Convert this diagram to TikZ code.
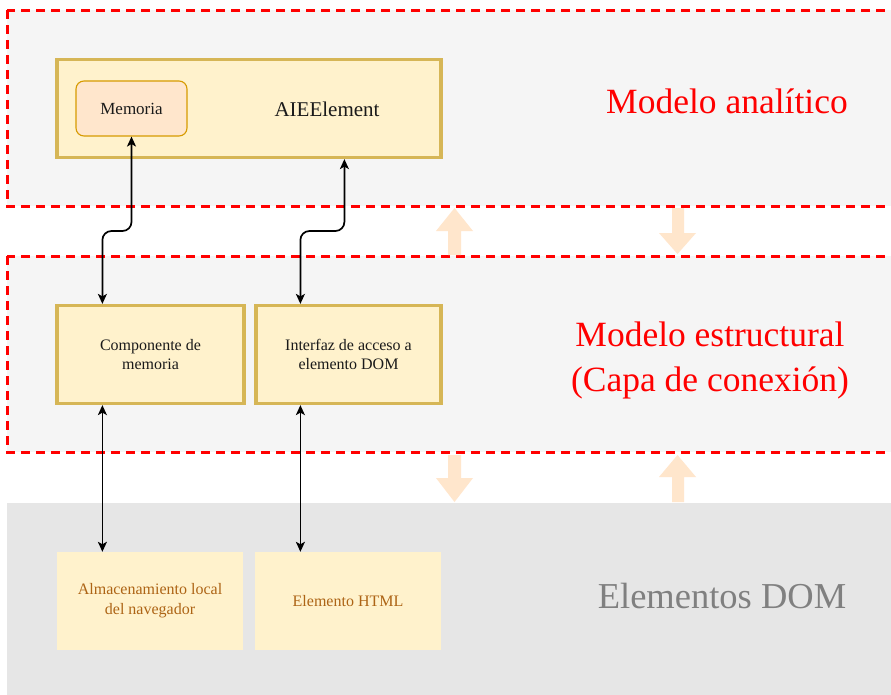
\documentclass[tikz,border=0pt]{standalone}
\usepackage{fontspec}
\setmainfont{Liberation Serif}
\usetikzlibrary{arrows.meta,calc}
\definecolor{panel}{HTML}{F5F5F5}
\definecolor{domgray}{HTML}{E6E6E6}
\definecolor{boxfill}{HTML}{FFF2CC}
\definecolor{boxline}{HTML}{D6B656}
\definecolor{memfill}{HTML}{FFE6CC}
\definecolor{memline}{HTML}{D79B00}
\definecolor{domtext}{HTML}{AD6415}
\definecolor{flow}{HTML}{FFE6CC}
\definecolor{ink}{HTML}{1A1A1A}
\begin{document}
\begin{tikzpicture}[x=1pt,y=-1pt,
  layer/.style={draw=red, line width=3pt, dash pattern=on 9pt off 6pt, fill=panel},
  compbox/.style={draw=boxline, line width=3.2pt, fill=boxfill, inner sep=0pt,
    text=ink, align=center, font=\fontsize{16}{19}\selectfont},
  dombox/.style={fill=boxfill, inner sep=0pt, text=domtext, align=center,
    font=\fontsize{16}{20}\selectfont, minimum width=186pt, minimum height=98pt},
  biglabel/.style={align=center, font=\fontsize{35.5}{45}\selectfont, inner sep=0pt},
  link/.style={draw=black, line width=1.7pt, rounded corners=9pt,
    {Stealth[length=10pt,width=9pt,inset=2.5pt]}-{Stealth[length=10pt,width=9pt,inset=2.5pt]}},
  flowarrow/.style={fill=flow, draw=none}
]
\useasboundingbox (0,0) rectangle (891,694);
\clip (0,0) rectangle (891,694);
\fill[white] (0,0) rectangle (891,694);

% layers
\draw[layer] (7,10) rectangle (910,206);
\draw[layer] (7,256) rectangle (910,452);
\fill[domgray] (7,503) rectangle (910,710);

% layer labels
\node[biglabel, text=red] (lblA) at (727,101) {Modelo analítico};
\node[biglabel, text=red] (lblB) at (710,360) {Modelo estructural\\(Capa de conexión)};
\node[biglabel, text={rgb,255:red,128;green,128;blue,128}, font=\fontsize{36.5}{45}\selectfont] (lblC) at (722,596) {Elementos DOM};

% flow arrows between layers
\path[flowarrow] (448,255) -- (448,231) -- (436,231) -- (454.5,208) -- (473,231) -- (461,231) -- (461,255) -- cycle;
\path[flowarrow] (672,208) -- (672,233) -- (659,233) -- (677.5,254) -- (696,233) -- (684,233) -- (684,208) -- cycle;
\path[flowarrow] (448,455) -- (448,478) -- (436,478) -- (454.5,502) -- (473,478) -- (461,478) -- (461,455) -- cycle;
\path[flowarrow] (672,502) -- (672,477) -- (659,477) -- (677.5,455) -- (696,477) -- (684,477) -- (684,502) -- cycle;

% analytic model
\node[compbox, minimum width=384pt, minimum height=98pt] (aie) at (249,108.5) {};
\node[draw=memline, line width=1.1pt, fill=memfill, rounded corners=8pt,
  minimum width=111pt, minimum height=55pt, text=ink,
  font=\fontsize{17}{20}\selectfont] (mem) at (131.5,108.5) {Memoria};
\node[text=ink, font=\fontsize{21}{24}\selectfont] (aietxt) at (327,109.5) {AIEElement};

% structural model
\node[compbox, minimum width=187pt, minimum height=98pt] (comp) at (150.5,354.5) {Componente de\\memoria};
\node[compbox, minimum width=185pt, minimum height=98pt] (iface) at (348.5,354.5) {Interfaz de acceso a\\elemento DOM};

% DOM elements
\node[dombox] (store) at (150,601) {Almacenamiento local\\del navegador};
\node[dombox] (html) at (348,601) {Elemento HTML};

% connector anchors
\coordinate (compin) at ($(comp.north west)+(47,0)$);
\coordinate (ifin) at ($(iface.north west)+(46,0)$);
\coordinate (aieout) at ($(aie.south west)+(289,0)$);
\coordinate (jog) at (0,231);

\draw[link] (mem.south) -- (mem.south |- jog) -- (compin |- jog) -- (compin);
\draw[link] (aieout) -- (aieout |- jog) -- (ifin |- jog) -- (ifin);
\draw[link] (comp.south -| compin) -- (store.north -| compin);
\draw[link] (iface.south -| ifin) -- (html.north -| ifin);
\end{tikzpicture}
\end{document}
